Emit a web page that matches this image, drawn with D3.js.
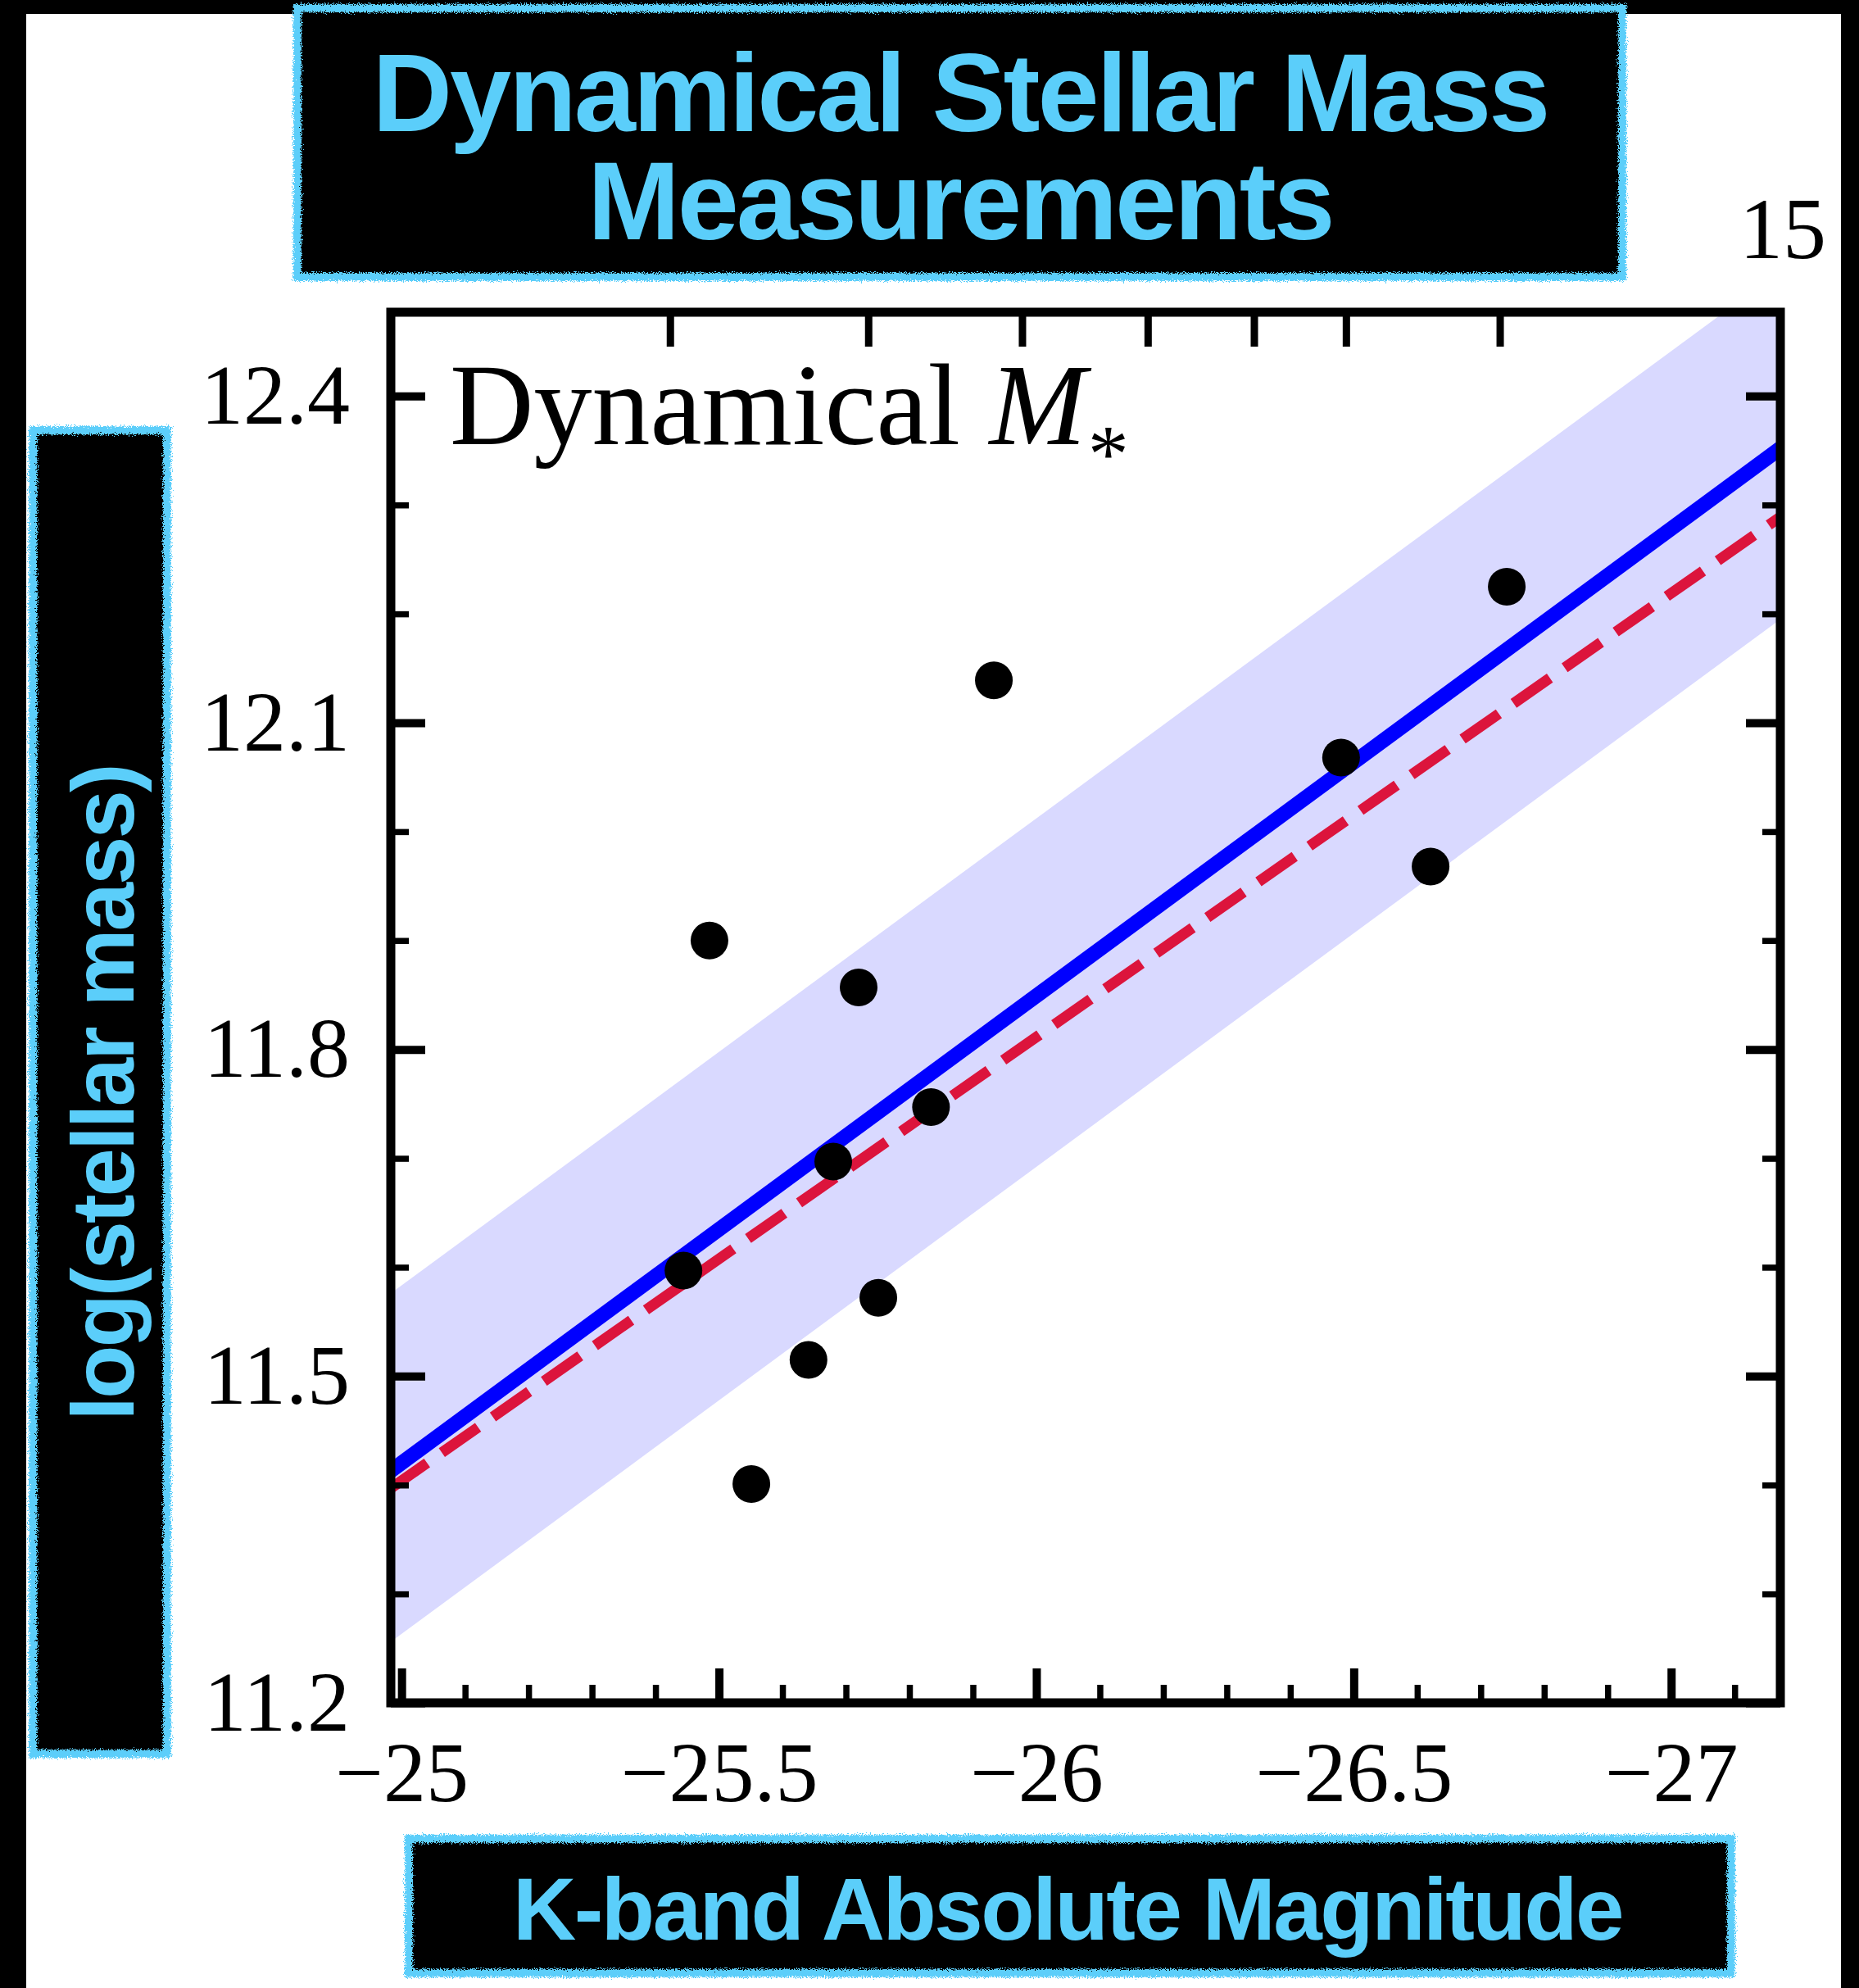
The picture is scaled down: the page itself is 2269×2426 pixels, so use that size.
<!DOCTYPE html>
<html>
<head>
<meta charset="utf-8">
<script src="https://cdn.jsdelivr.net/npm/d3@7"></script>
<style>
  body { margin: 0; background: #fff; }
  svg { display: block; }
</style>
</head>
<body>
<div class="dataviz"></div>
<script>
// K-band magnitude vs dynamical stellar mass

// data points
var magK = [-25.485, -25.720, -25.834, -25.680, -25.444, -25.751, -25.641, -25.551, -25.933, -26.741, -26.480, -26.621];
var logMass = [11.900, 11.857, 11.747, 11.697, 11.597, 11.572, 11.515, 11.401, 12.139, 12.225, 12.068, 11.968];

// fit lines, read at the two ends of the x range
var fitMag = [-24.983, -27.172];
var fitBest = [11.413, 12.352];
var fitUpper = [11.576, 12.515];
var fitLower = [11.256, 12.195];
var fitConst = [11.397, 12.289];

// ticks
var xMajor = [-25, -25.5, -26, -26.5, -27];
var xMinor = [-25.1, -25.2, -25.3, -25.4, -25.6, -25.7, -25.8, -25.9, -26.1, -26.2, -26.3, -26.4, -26.6, -26.7, -26.8, -26.9, -27.1];
var yMajor = [11.2, 11.5, 11.8, 12.1, 12.4];
var yMinor = [11.3, 11.4, 11.6, 11.7, 11.9, 12.0, 12.2, 12.3];
var topLum = [3, 4, 5, 6, 7, 8, 10]; // L_K in 1e11 Lsun
var MSUN_K = 3.27;

var W = 2269, H = 2426;
var cyan = "#5bcefa";
var serif = "'Liberation Serif', 'Times New Roman', serif";
var sans = "'Liberation Sans', Arial, Helvetica, sans-serif";

var canvas = d3.select(".dataviz").append("svg")
  .attr("width", W)
  .attr("height", H);

var defs = canvas.append("defs");
var rough = defs.append("filter").attr("id", "rough")
  .attr("x", "-5%").attr("y", "-5%").attr("width", "110%").attr("height", "110%");
rough.append("feTurbulence")
  .attr("type", "fractalNoise")
  .attr("baseFrequency", "0.8")
  .attr("numOctaves", 2)
  .attr("seed", 4)
  .attr("result", "noise");
rough.append("feDisplacementMap")
  .attr("in", "SourceGraphic")
  .attr("in2", "noise")
  .attr("scale", 10)
  .attr("xChannelSelector", "R")
  .attr("yChannelSelector", "G");

// page background + black border strips
canvas.append("rect").attr("width", W).attr("height", H).attr("fill", "#fff");
canvas.append("rect").attr("x", 0).attr("y", 0).attr("width", W).attr("height", 17).attr("fill", "#000");
canvas.append("rect").attr("x", 0).attr("y", 0).attr("width", 32).attr("height", H).attr("fill", "#000");
canvas.append("rect").attr("x", 2247).attr("y", 0).attr("width", W - 2247).attr("height", H).attr("fill", "#000");

var x = d3.scaleLinear().domain([fitMag[0], fitMag[1]]).range([477, 2173]);
var y = d3.scaleLinear().domain([11.2, 12.477]).range([2078, 381]);

defs.append("clipPath").attr("id", "plotclip")
  .append("rect")
  .attr("x", x.range()[0]).attr("y", y.range()[1])
  .attr("width", x.range()[1] - x.range()[0])
  .attr("height", y.range()[0] - y.range()[1]);

var paint = canvas.append("g").attr("clip-path", "url(#plotclip)");

// scatter band
var band = d3.area()
  .x(function(d) { return x(d.m); })
  .y0(function(d) { return y(d.lo); })
  .y1(function(d) { return y(d.hi); });
paint.append("path")
  .datum(fitMag.map(function(m, i) { return {m: m, lo: fitLower[i], hi: fitUpper[i]}; }))
  .attr("d", band)
  .attr("fill", "rgb(217,217,255)");

var line = d3.line()
  .x(function(d) { return x(d[0]); })
  .y(function(d) { return y(d[1]); });

paint.append("path")
  .datum(fitMag.map(function(m, i) { return [m, fitBest[i]]; }))
  .attr("d", line)
  .attr("fill", "none")
  .attr("stroke", "#0000ff")
  .attr("stroke-width", 18);

paint.append("path")
  .datum(fitMag.map(function(m, i) { return [m, fitConst[i]]; }))
  .attr("d", line)
  .attr("fill", "none")
  .attr("stroke", "#dc143c")
  .attr("stroke-width", 13)
  .attr("stroke-dasharray", "54,22");

paint.selectAll("circle")
  .data(magK)
  .enter()
  .append("circle")
  .attr("cx", function(d) { return x(d); })
  .attr("cy", function(d, i) { return y(logMass[i]); })
  .attr("r", 23)
  .attr("fill", "#000");

// axes
var fmt = function(d) { return String(d).replace("-", "\u2212"); };

function styleAxis(g, w) {
  g.select(".domain").remove();
  g.selectAll(".tick line").attr("stroke", "#000").attr("stroke-width", w);
  g.selectAll(".tick text")
    .attr("fill", "#000")
    .attr("font-family", serif)
    .attr("font-size", 104);
}

canvas.append("g")
  .attr("transform", "translate(0," + y.range()[0] + ")")
  .call(d3.axisBottom(x).tickValues(xMajor).tickSize(-42).tickPadding(46).tickFormat(fmt))
  .call(styleAxis, 10);
canvas.append("g")
  .attr("transform", "translate(0," + y.range()[0] + ")")
  .call(d3.axisBottom(x).tickValues(xMinor).tickSize(-22).tickFormat(""))
  .call(styleAxis, 7.5);

canvas.append("g")
  .attr("transform", "translate(" + x.range()[0] + ",0)")
  .call(d3.axisLeft(y).tickValues(yMajor).tickSize(-42).tickPadding(50).tickFormat(d3.format(".1f")))
  .call(styleAxis, 10);
canvas.append("g")
  .attr("transform", "translate(" + x.range()[0] + ",0)")
  .call(d3.axisLeft(y).tickValues(yMinor).tickSize(-22).tickFormat(""))
  .call(styleAxis, 7.5);

canvas.append("g")
  .attr("transform", "translate(" + x.range()[1] + ",0)")
  .call(d3.axisRight(y).tickValues(yMajor).tickSize(-42).tickFormat(""))
  .call(styleAxis, 10);
canvas.append("g")
  .attr("transform", "translate(" + x.range()[1] + ",0)")
  .call(d3.axisRight(y).tickValues(yMinor).tickSize(-22).tickFormat(""))
  .call(styleAxis, 7.5);

// top axis: luminosity ticks converted to magnitudes
var topMag = topLum.map(function(L) { return MSUN_K - 2.5 * Math.log10(L * 1e11); });
canvas.append("g")
  .attr("transform", "translate(0," + y.range()[1] + ")")
  .call(d3.axisTop(x).tickValues(topMag).tickSize(-42).tickFormat(""))
  .call(styleAxis, 9);

// frame
canvas.append("rect")
  .attr("x", x.range()[0]).attr("y", y.range()[1])
  .attr("width", x.range()[1] - x.range()[0])
  .attr("height", y.range()[0] - y.range()[1])
  .attr("fill", "none")
  .attr("stroke", "#000")
  .attr("stroke-width", 11);

// in-plot label
var lab = canvas.append("text")
  .attr("x", 549).attr("y", 542)
  .attr("font-family", serif)
  .attr("font-size", 142)
  .attr("fill", "#000");
lab.append("tspan").text("Dynamical ");
lab.append("tspan").attr("font-style", "italic").text("M");
lab.append("tspan").attr("font-size", 100).attr("dx", 2).attr("dy", 45).text("*");

// page number
canvas.append("text")
  .attr("x", 2229).attr("y", 315)
  .attr("text-anchor", "end")
  .attr("font-family", serif)
  .attr("font-size", 106)
  .attr("fill", "#000")
  .text("15");

// boxed labels
function box(bx, by, bw, bh) {
  canvas.append("rect")
    .attr("x", bx).attr("y", by).attr("width", bw).attr("height", bh)
    .attr("fill", "#000");
  canvas.append("rect")
    .attr("x", bx).attr("y", by).attr("width", bw).attr("height", bh)
    .attr("fill", "none")
    .attr("stroke", cyan)
    .attr("stroke-width", 10)
    .attr("filter", "url(#rough)");
}

box(363, 10, 1617, 328);
var title = canvas.append("text")
  .attr("text-anchor", "middle")
  .attr("font-family", sans).attr("font-weight", "bold")
  .attr("font-size", 135).attr("letter-spacing", -3)
  .attr("fill", cyan);
title.append("tspan").attr("x", 1172).attr("y", 160).text("Dynamical Stellar Mass");
title.append("tspan").attr("x", 1172).attr("y", 292).text("Measurements");

box(40, 525, 164, 1615);
canvas.append("text")
  .attr("transform", "translate(163,1334) rotate(-90)")
  .attr("text-anchor", "middle")
  .attr("font-family", sans).attr("font-weight", "bold")
  .attr("font-size", 107).attr("letter-spacing", -3)
  .attr("fill", cyan)
  .text("log(stellar mass)");

box(499, 2244, 1614, 164);
canvas.append("text")
  .attr("x", 1303).attr("y", 2367)
  .attr("text-anchor", "middle")
  .attr("font-family", sans).attr("font-weight", "bold")
  .attr("font-size", 107).attr("letter-spacing", -2.5)
  .attr("fill", cyan)
  .text("K-band Absolute Magnitude");
</script>
</body>
</html>
